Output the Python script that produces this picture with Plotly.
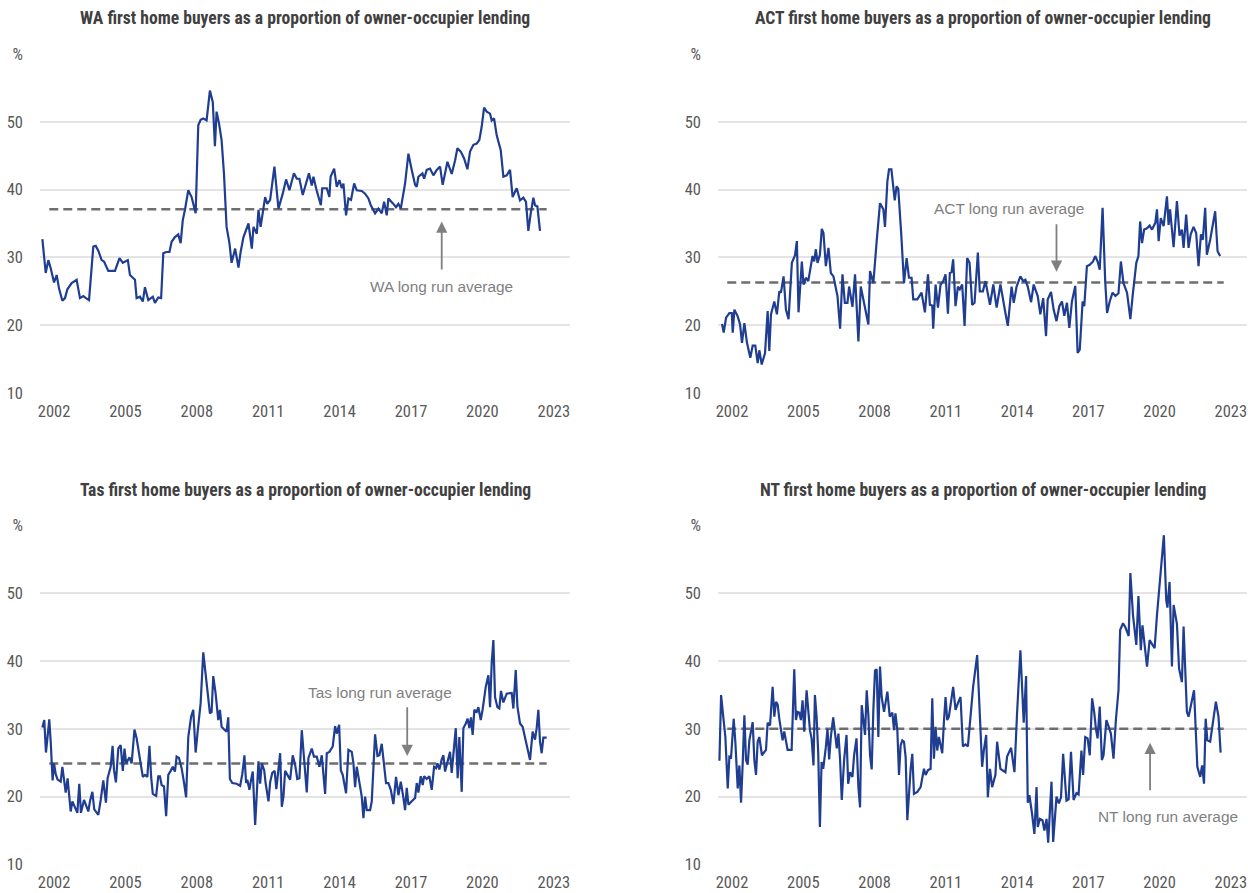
import plotly.graph_objects as go

# ---------------- data ----------------
wa_year = [
    2001.51, 2001.65, 2001.76, 2001.86, 2002.00, 2002.11, 2002.21, 2002.35, 2002.46, 2002.56,
    2002.74, 2002.88, 2002.95, 2003.09, 2003.23, 2003.34, 2003.47, 2003.65, 2003.75, 2003.86,
    2004.00, 2004.10, 2004.28, 2004.56, 2004.75, 2004.89, 2005.10, 2005.19, 2005.40, 2005.47,
    2005.61, 2005.73, 2005.82, 2005.96, 2006.15, 2006.24, 2006.38, 2006.50, 2006.59, 2006.71,
    2006.85, 2006.94, 2007.08, 2007.22, 2007.32, 2007.41, 2007.50, 2007.64, 2007.78, 2007.95,
    2008.06, 2008.16, 2008.27, 2008.41, 2008.55, 2008.67, 2008.76, 2008.83, 2008.93, 2009.04,
    2009.14, 2009.25, 2009.37, 2009.46, 2009.61, 2009.75, 2009.84, 2009.96, 2010.17, 2010.31,
    2010.38, 2010.52, 2010.59, 2010.68, 2010.87, 2010.96, 2011.08, 2011.26, 2011.43, 2011.61,
    2011.75, 2011.89, 2012.08, 2012.20, 2012.31, 2012.45, 2012.55, 2012.71, 2012.83, 2012.90,
    2013.01, 2013.21, 2013.27, 2013.46, 2013.57, 2013.62, 2013.77, 2013.88, 2013.99, 2014.09,
    2014.16, 2014.27, 2014.37, 2014.48, 2014.61, 2014.72, 2014.93, 2015.07, 2015.21, 2015.31,
    2015.49, 2015.63, 2015.77, 2015.87, 2015.98, 2016.05, 2016.23, 2016.37, 2016.47, 2016.57,
    2016.75, 2016.89, 2017.03, 2017.17, 2017.24, 2017.31, 2017.48, 2017.55, 2017.66, 2017.80,
    2017.94, 2018.08, 2018.22, 2018.33, 2018.53, 2018.71, 2018.85, 2018.95, 2019.09, 2019.23,
    2019.37, 2019.48, 2019.62, 2019.76, 2019.87, 2019.97, 2020.07, 2020.18, 2020.32, 2020.39,
    2020.49, 2020.60, 2020.77, 2020.88, 2021.02, 2021.16, 2021.27, 2021.44, 2021.58, 2021.72,
    2021.83, 2021.93, 2022.03, 2022.14, 2022.21, 2022.31, 2022.42,
]
wa_pct = [
    32.7, 27.7, 29.6, 28.4, 26.3, 27.4, 25.4, 23.6, 24.0, 25.3,
    26.2, 26.6, 26.7, 24.0, 24.3, 24.0, 23.7, 31.6, 31.7, 31.0,
    29.6, 29.4, 28.0, 28.0, 29.9, 29.2, 29.6, 27.4, 26.7, 24.0,
    24.2, 23.5, 25.6, 23.7, 24.2, 23.3, 24.1, 24.0, 30.6, 30.8,
    30.8, 32.3, 33.0, 33.4, 32.1, 35.5, 37.0, 39.9, 38.9, 36.5,
    49.5, 50.3, 50.5, 50.2, 54.6, 52.9, 46.4, 51.5, 49.8, 47.3,
    42.4, 34.5, 32.1, 29.2, 31.3, 28.5, 30.8, 33.0, 35.0, 31.3,
    34.5, 33.5, 37.0, 34.5, 38.9, 37.9, 38.5, 43.4, 37.2, 39.4,
    41.5, 39.9, 42.4, 41.6, 41.6, 39.2, 40.4, 42.4, 40.6, 41.9,
    40.2, 37.7, 40.2, 40.2, 38.9, 41.9, 43.1, 40.4, 41.4, 40.2,
    40.9, 36.2, 38.7, 38.5, 40.9, 39.9, 39.8, 39.4, 38.7, 37.7,
    36.5, 37.2, 36.5, 38.2, 36.2, 38.7, 38.0, 37.4, 37.9, 37.2,
    40.9, 45.3, 42.9, 40.7, 40.4, 41.9, 42.4, 41.6, 42.9, 43.1,
    42.1, 42.9, 43.4, 40.7, 44.1, 42.3, 44.3, 46.1, 45.6, 44.6,
    43.0, 45.6, 46.6, 46.8, 47.3, 49.3, 52.1, 51.5, 51.2, 50.2,
    50.5, 48.0, 45.8, 41.9, 42.1, 42.9, 38.9, 40.2, 38.4, 38.8,
    38.2, 33.9, 36.5, 38.8, 37.7, 37.5, 33.9,
]

act_year = [
    2001.58, 2001.65, 2001.75, 2001.89, 2001.99, 2002.03, 2002.10, 2002.24, 2002.34, 2002.42,
    2002.52, 2002.63, 2002.77, 2002.87, 2002.98, 2003.08, 2003.15, 2003.25, 2003.39, 2003.50,
    2003.57, 2003.64, 2003.78, 2003.89, 2003.99, 2004.06, 2004.17, 2004.27, 2004.38, 2004.52,
    2004.65, 2004.73, 2004.80, 2004.94, 2005.01, 2005.11, 2005.21, 2005.32, 2005.39, 2005.46,
    2005.53, 2005.60, 2005.70, 2005.78, 2005.85, 2005.95, 2006.06, 2006.16, 2006.27, 2006.34,
    2006.44, 2006.55, 2006.65, 2006.75, 2006.86, 2006.93, 2007.07, 2007.18, 2007.32, 2007.42,
    2007.53, 2007.63, 2007.74, 2007.81, 2007.95, 2008.09, 2008.23, 2008.37, 2008.44, 2008.54,
    2008.61, 2008.71, 2008.85, 2008.93, 2009.00, 2009.13, 2009.24, 2009.35, 2009.45, 2009.56,
    2009.63, 2009.80, 2009.98, 2010.12, 2010.25, 2010.33, 2010.43, 2010.47, 2010.57, 2010.67,
    2010.78, 2010.89, 2010.99, 2011.09, 2011.17, 2011.24, 2011.31, 2011.41, 2011.51, 2011.59,
    2011.69, 2011.79, 2011.90, 2012.00, 2012.11, 2012.21, 2012.35, 2012.43, 2012.56, 2012.67,
    2012.77, 2012.86, 2013.00, 2013.14, 2013.30, 2013.44, 2013.51, 2013.61, 2013.77, 2013.86,
    2013.98, 2014.14, 2014.26, 2014.35, 2014.45, 2014.59, 2014.70, 2014.87, 2014.98, 2015.10,
    2015.22, 2015.29, 2015.43, 2015.54, 2015.66, 2015.78, 2015.89, 2015.99, 2016.10, 2016.20,
    2016.31, 2016.45, 2016.55, 2016.64, 2016.76, 2016.83, 2016.94, 2017.06, 2017.20, 2017.29,
    2017.39, 2017.48, 2017.60, 2017.71, 2017.79, 2017.90, 2018.02, 2018.14, 2018.27, 2018.37,
    2018.48, 2018.63, 2018.77, 2018.88, 2019.02, 2019.11, 2019.18, 2019.26, 2019.35, 2019.47,
    2019.58, 2019.68, 2019.82, 2019.89, 2019.96, 2020.05, 2020.17, 2020.31, 2020.38, 2020.44,
    2020.59, 2020.73, 2020.84, 2020.94, 2021.01, 2021.12, 2021.22, 2021.31, 2021.43, 2021.54,
    2021.64, 2021.74, 2021.82, 2021.92, 2021.99, 2022.13, 2022.23, 2022.34, 2022.44, 2022.55,
]
act_pct = [
    20.2, 18.9, 21.1, 21.8, 21.8, 18.9, 22.3, 21.3, 20.1, 17.4,
    20.3, 17.4, 15.2, 17.0, 17.0, 14.4, 16.3, 14.2, 15.9, 22.1,
    16.2, 21.6, 23.5, 21.6, 25.0, 24.8, 27.2, 22.3, 20.9, 29.2,
    30.3, 32.4, 21.9, 29.4, 26.0, 27.0, 26.5, 28.7, 30.2, 29.4,
    31.2, 29.2, 30.4, 34.2, 33.6, 28.7, 31.4, 27.7, 27.2, 26.0,
    24.3, 19.5, 27.5, 23.3, 23.3, 25.7, 22.7, 27.5, 17.6, 25.7,
    23.8, 21.8, 20.1, 28.0, 26.2, 32.4, 38.0, 37.1, 34.5, 41.2,
    43.0, 43.0, 38.4, 40.5, 40.1, 33.1, 26.2, 29.9, 27.0, 27.0,
    23.8, 23.8, 24.8, 21.9, 27.5, 23.0, 22.9, 19.5, 26.0, 22.6,
    26.0, 26.5, 27.5, 21.7, 27.7, 27.8, 29.7, 22.8, 25.7, 25.3,
    26.0, 19.9, 29.9, 29.2, 23.0, 23.3, 30.7, 25.0, 25.0, 26.5,
    24.8, 23.0, 26.0, 22.6, 26.0, 22.8, 21.8, 19.9, 25.7, 23.3,
    25.7, 27.2, 26.5, 26.7, 25.7, 23.4, 26.0, 24.3, 21.6, 24.0,
    18.4, 23.8, 24.9, 22.3, 20.6, 22.8, 23.5, 21.4, 23.3, 19.6,
    23.5, 25.8, 15.9, 16.4, 23.5, 22.8, 28.7, 28.9, 29.4, 30.2,
    29.4, 28.2, 37.3, 26.5, 21.8, 23.5, 24.8, 24.3, 24.7, 29.4,
    26.2, 24.8, 20.9, 24.8, 29.2, 30.2, 35.3, 32.1, 34.1, 34.3,
    34.7, 34.1, 35.1, 37.1, 32.4, 35.8, 34.6, 39.0, 34.8, 37.1,
    31.5, 38.3, 33.2, 34.1, 31.4, 36.3, 31.4, 33.4, 34.5, 33.6,
    28.7, 33.4, 32.6, 37.3, 30.4, 32.6, 34.8, 36.8, 30.9, 30.2,
]

tas_year = [
    2001.51, 2001.59, 2001.66, 2001.73, 2001.80, 2001.86, 2001.94, 2002.00, 2002.07, 2002.15,
    2002.28, 2002.35, 2002.42, 2002.49, 2002.57, 2002.70, 2002.77, 2002.88, 2002.98, 2003.06,
    2003.13, 2003.26, 2003.34, 2003.44, 2003.51, 2003.61, 2003.69, 2003.86, 2003.96, 2004.07,
    2004.18, 2004.25, 2004.38, 2004.46, 2004.52, 2004.60, 2004.70, 2004.80, 2004.89, 2004.96,
    2005.03, 2005.10, 2005.17, 2005.26, 2005.38, 2005.47, 2005.57, 2005.66, 2005.73, 2005.82,
    2005.92, 2006.01, 2006.08, 2006.15, 2006.29, 2006.38, 2006.45, 2006.52, 2006.62, 2006.71,
    2006.80, 2006.90, 2006.99, 2007.08, 2007.15, 2007.25, 2007.36, 2007.46, 2007.55, 2007.64,
    2007.76, 2007.85, 2007.95, 2008.04, 2008.16, 2008.27, 2008.41, 2008.55, 2008.62, 2008.69,
    2008.79, 2008.90, 2008.97, 2009.04, 2009.18, 2009.25, 2009.32, 2009.39, 2009.49, 2009.67,
    2009.82, 2009.91, 2010.00, 2010.07, 2010.12, 2010.21, 2010.28, 2010.35, 2010.45, 2010.52,
    2010.59, 2010.66, 2010.73, 2010.83, 2010.89, 2011.01, 2011.08, 2011.17, 2011.27, 2011.34,
    2011.41, 2011.50, 2011.57, 2011.64, 2011.71, 2011.80, 2011.92, 2012.03, 2012.13, 2012.22,
    2012.31, 2012.41, 2012.50, 2012.62, 2012.69, 2012.83, 2012.92, 2013.04, 2013.15, 2013.25,
    2013.39, 2013.46, 2013.57, 2013.71, 2013.81, 2013.88, 2013.98, 2014.05, 2014.13, 2014.20,
    2014.27, 2014.37, 2014.51, 2014.58, 2014.65, 2014.72, 2014.83, 2014.93, 2015.00, 2015.07,
    2015.14, 2015.28, 2015.35, 2015.49, 2015.59, 2015.67, 2015.77, 2015.87, 2015.95, 2016.05,
    2016.15, 2016.26, 2016.37, 2016.47, 2016.57, 2016.68, 2016.75, 2016.82, 2016.89, 2017.03,
    2017.17, 2017.24, 2017.31, 2017.41, 2017.49, 2017.55, 2017.66, 2017.77, 2017.87, 2017.97,
    2018.05, 2018.11, 2018.19, 2018.29, 2018.36, 2018.43, 2018.53, 2018.64, 2018.71, 2018.78,
    2018.88, 2018.96, 2019.03, 2019.13, 2019.20, 2019.30, 2019.38, 2019.45, 2019.52, 2019.59,
    2019.66, 2019.76, 2019.83, 2019.93, 2020.01, 2020.14, 2020.25, 2020.32, 2020.39, 2020.46,
    2020.53, 2020.63, 2020.71, 2020.78, 2020.88, 2021.02, 2021.23, 2021.30, 2021.40, 2021.47,
    2021.58, 2021.69, 2021.79, 2021.89, 2022.00, 2022.11, 2022.21, 2022.28, 2022.35, 2022.42,
    2022.49, 2022.56, 2022.70,
]
tas_pct = [
    30.2, 31.3, 26.5, 29.1, 31.4, 28.1, 22.4, 24.9, 23.3, 22.5,
    22.2, 24.4, 22.6, 20.6, 22.7, 17.8, 19.3, 18.3, 17.6, 21.9,
    17.6, 19.5, 18.8, 17.8, 19.3, 20.7, 18.1, 17.3, 19.5, 22.4,
    19.1, 22.7, 24.4, 27.5, 23.9, 22.1, 27.1, 27.6, 23.8, 27.1,
    24.9, 25.4, 25.8, 24.9, 29.9, 28.6, 26.6, 24.4, 22.9, 23.2,
    22.9, 27.5, 22.9, 20.4, 20.1, 23.0, 23.0, 21.7, 21.5, 17.1,
    23.2, 23.8, 24.4, 23.7, 25.9, 25.7, 24.2, 22.1, 19.9, 28.8,
    31.8, 32.8, 26.5, 29.8, 33.8, 41.3, 36.7, 32.3, 32.5, 37.8,
    35.2, 31.3, 32.8, 30.3, 29.8, 29.6, 31.7, 22.6, 22.0, 21.9,
    21.6, 23.3, 26.1, 22.0, 22.5, 21.0, 22.5, 23.7, 15.8, 20.5,
    25.2, 21.9, 24.9, 23.9, 22.0, 19.3, 22.1, 23.5, 23.8, 21.1,
    23.4, 26.4, 18.5, 20.0, 23.8, 23.2, 22.5, 26.1, 24.7, 22.6,
    22.7, 29.8, 25.4, 20.6, 25.7, 27.1, 25.9, 25.9, 24.4, 26.1,
    20.4, 26.4, 26.6, 27.4, 30.4, 29.3, 30.6, 23.9, 23.2, 22.0,
    20.5, 26.9, 26.6, 24.9, 21.4, 24.4, 21.7, 20.0, 16.8, 20.0,
    18.0, 18.0, 19.3, 29.2, 26.0, 26.1, 27.8, 24.9, 22.0, 22.0,
    21.0, 18.9, 22.9, 20.2, 22.2, 19.8, 18.0, 21.3, 18.8, 19.3,
    19.8, 22.0, 20.6, 23.0, 21.7, 23.0, 22.6, 23.0, 21.0, 24.4,
    24.2, 24.9, 24.0, 25.5, 26.1, 23.7, 25.2, 26.6, 23.5, 26.4,
    30.1, 22.7, 28.8, 20.7, 30.1, 30.8, 31.5, 30.1, 31.7, 29.1,
    32.8, 32.5, 33.2, 31.3, 32.9, 36.2, 37.9, 33.2, 39.7, 43.1,
    34.7, 33.2, 33.0, 35.6, 33.9, 35.2, 35.3, 33.0, 38.7, 33.3,
    30.8, 30.3, 28.7, 27.1, 25.4, 29.6, 28.4, 30.1, 32.8, 28.1,
    26.4, 28.7, 28.7,
]

nt_year = [
    2001.47, 2001.54, 2001.64, 2001.72, 2001.82, 2001.89, 2001.96, 2002.07, 2002.14, 2002.24,
    2002.31, 2002.38, 2002.45, 2002.52, 2002.59, 2002.66, 2002.73, 2002.87, 2002.94, 2003.01,
    2003.08, 2003.15, 2003.26, 2003.36, 2003.43, 2003.50, 2003.60, 2003.71, 2003.78, 2003.85,
    2003.92, 2003.99, 2004.13, 2004.20, 2004.34, 2004.51, 2004.62, 2004.69, 2004.76, 2004.83,
    2004.90, 2004.97, 2005.04, 2005.14, 2005.21, 2005.28, 2005.35, 2005.43, 2005.49, 2005.56,
    2005.63, 2005.70, 2005.77, 2005.84, 2005.95, 2006.02, 2006.09, 2006.16, 2006.26, 2006.34,
    2006.41, 2006.48, 2006.55, 2006.62, 2006.72, 2006.82, 2006.89, 2006.97, 2007.07, 2007.14,
    2007.24, 2007.32, 2007.39, 2007.46, 2007.53, 2007.60, 2007.67, 2007.74, 2007.81, 2007.88,
    2007.95, 2008.02, 2008.09, 2008.16, 2008.23, 2008.30, 2008.40, 2008.47, 2008.54, 2008.64,
    2008.75, 2008.82, 2008.88, 2008.96, 2009.03, 2009.10, 2009.17, 2009.24, 2009.31, 2009.38,
    2009.45, 2009.52, 2009.59, 2009.66, 2009.80, 2009.94, 2010.08, 2010.15, 2010.25, 2010.36,
    2010.43, 2010.50, 2010.57, 2010.64, 2010.71, 2010.78, 2010.85, 2010.92, 2010.99, 2011.06,
    2011.13, 2011.31, 2011.41, 2011.51, 2011.62, 2011.72, 2011.83, 2011.93, 2012.04, 2012.15,
    2012.32, 2012.43, 2012.53, 2012.60, 2012.70, 2012.77, 2012.86, 2012.95, 2013.09, 2013.16,
    2013.30, 2013.51, 2013.58, 2013.75, 2013.89, 2014.00, 2014.14, 2014.28, 2014.38, 2014.45,
    2014.52, 2014.63, 2014.73, 2014.82, 2014.87, 2014.96, 2015.07, 2015.15, 2015.24, 2015.31,
    2015.45, 2015.52, 2015.59, 2015.66, 2015.76, 2015.85, 2015.94, 2016.08, 2016.17, 2016.27,
    2016.38, 2016.50, 2016.59, 2016.71, 2016.78, 2016.87, 2016.97, 2017.06, 2017.16, 2017.25,
    2017.32, 2017.39, 2017.48, 2017.57, 2017.64, 2017.76, 2017.86, 2017.95, 2018.06, 2018.16,
    2018.27, 2018.34, 2018.46, 2018.56, 2018.70, 2018.77, 2018.88, 2019.02, 2019.11, 2019.21,
    2019.28, 2019.40, 2019.47, 2019.58, 2019.68, 2019.79, 2019.89, 2020.00, 2020.10, 2020.18,
    2020.28, 2020.33, 2020.42, 2020.52, 2020.59, 2020.73, 2020.82, 2020.94, 2021.01, 2021.08,
    2021.15, 2021.22, 2021.36, 2021.45, 2021.59, 2021.71, 2021.79, 2021.87, 2021.94, 2022.01,
    2022.13, 2022.23, 2022.37, 2022.48, 2022.57,
]
nt_pct = [
    25.3, 35.0, 31.5, 28.8, 21.2, 25.9, 25.8, 31.5, 28.1, 21.2,
    24.6, 19.1, 24.9, 32.0, 25.4, 24.7, 28.3, 31.0, 25.4, 23.2,
    28.1, 28.8, 26.1, 26.6, 26.9, 30.9, 30.5, 36.2, 31.8, 34.0,
    33.6, 31.5, 28.3, 29.6, 26.9, 26.9, 38.8, 31.3, 32.5, 32.4,
    31.3, 34.2, 29.6, 35.7, 32.8, 29.8, 28.6, 24.6, 35.0, 31.8,
    26.4, 15.5, 25.1, 24.1, 27.3, 30.0, 25.5, 28.8, 31.7, 29.1,
    27.1, 29.3, 25.4, 19.5, 25.4, 29.1, 21.9, 23.6, 22.9, 26.1,
    28.6, 21.4, 18.4, 33.5, 31.0, 29.1, 35.7, 32.0, 26.1, 24.0,
    32.8, 38.6, 38.8, 28.8, 39.2, 34.7, 32.5, 34.0, 35.5, 31.8,
    32.4, 29.8, 32.3, 29.8, 23.2, 27.6, 28.3, 28.1, 25.8, 16.5,
    21.4, 24.1, 26.3, 20.4, 20.7, 21.4, 24.1, 23.2, 23.9, 24.1,
    34.5, 25.6, 30.3, 26.8, 28.8, 27.6, 26.4, 31.0, 34.7, 31.3,
    31.8, 36.2, 32.8, 33.8, 34.7, 27.4, 27.7, 27.4, 32.3, 36.2,
    40.9, 30.8, 24.4, 26.8, 29.1, 19.9, 24.1, 21.4, 23.2, 28.1,
    24.1, 23.6, 25.9, 27.2, 23.6, 32.3, 41.6, 30.9, 37.8, 19.1,
    20.2, 17.5, 14.5, 21.4, 15.5, 16.7, 16.5, 15.0, 16.7, 13.2,
    22.2, 13.3, 16.7, 20.0, 19.0, 19.9, 26.3, 19.4, 19.6, 26.6,
    19.5, 20.5, 20.3, 26.8, 23.2, 28.8, 28.6, 26.1, 34.5, 32.4,
    30.0, 28.6, 33.3, 25.4, 26.1, 31.3, 30.3, 29.3, 25.6, 31.3,
    35.7, 44.6, 45.6, 45.0, 43.7, 53.0, 46.8, 42.4, 49.6, 41.6,
    45.3, 41.4, 39.2, 43.1, 42.5, 41.9, 46.8, 51.2, 54.9, 58.6,
    49.0, 47.9, 51.7, 39.2, 48.3, 45.5, 38.9, 36.9, 45.1, 37.2,
    32.5, 31.8, 34.5, 35.7, 24.4, 22.9, 24.6, 21.9, 31.5, 28.3,
    28.1, 30.8, 34.0, 31.8, 26.5,
]

states = ["WA", "ACT", "Tas", "NT"]
long_run_avg = [37.1, 26.3, 24.9, 30.0]
avg_span = [2001.8, 2022.7]

y_ticks = [10, 20, 30, 40, 50, 60]
y_tick_labels = ["10", "20", "30", "40", "50", "%"]
x_ticks = [2002, 2005, 2008, 2011, 2014, 2017, 2020, 2023]
x_tick_labels = [str(v) for v in x_ticks]

series = [(wa_year, wa_pct), (act_year, act_pct), (tas_year, tas_pct), (nt_year, nt_pct)]

# ---------------- styling ----------------
W, H = 1248, 893
LINE_BLUE = "#1f3d91"
AVG_GREY = "#6e6e6e"
NOTE_GREY = "#7f7f7f"
TICK_GREY = "#595959"
TITLE_GREY = "#404040"
GRID = "#e4e4e4"
NARROW = "Liberation Sans Narrow, Arial Narrow, Roboto Condensed, DejaVu Sans Condensed, sans-serif"
REGULAR = "Liberation Sans, Arial, sans-serif"

x_domains = [[40 / W, 570 / W], [718 / W, 1247 / W], [40 / W, 570 / W], [718 / W, 1247 / W]]
y_domains = [[1 - 393 / H, 1 - 54 / H], [1 - 393 / H, 1 - 54 / H],
             [1 - 864.3 / H, 1 - 525.7 / H], [1 - 864.3 / H, 1 - 525.7 / H]]
x_range = [2001.41, 2023.68]

fig = go.Figure()
layout = dict(
    width=W, height=H, autosize=False,
    margin=dict(l=0, r=0, t=0, b=0, pad=0),
    paper_bgcolor="white", plot_bgcolor="white",
    showlegend=False,
    annotations=[],
)

for i, (name, (xs, ys), avg) in enumerate(zip(states, series, long_run_avg)):
    k = "" if i == 0 else str(i + 1)
    xa, ya = "x" + k, "y" + k
    fig.add_trace(go.Scatter(x=avg_span, y=[avg, avg], mode="lines", xaxis=xa, yaxis=ya,
                             line=dict(color=AVG_GREY, width=2.5, dash="9px,5px"),
                             hoverinfo="skip"))
    fig.add_trace(go.Scatter(x=xs, y=ys, mode="lines", xaxis=xa, yaxis=ya,
                             line=dict(color=LINE_BLUE, width=2.2)))
    layout["xaxis" + k] = dict(
        domain=x_domains[i], range=x_range, anchor=ya, automargin=False,
        tickmode="array", tickvals=x_ticks, ticktext=x_tick_labels,
        showgrid=False, zeroline=False, showline=False, ticks="",
        ticklabelstandoff=6,
        tickfont=dict(family=NARROW, size=16.5, color=TICK_GREY),
    )
    layout["yaxis" + k] = dict(
        domain=y_domains[i], range=[10, 60], anchor=xa, automargin=False,
        tickmode="array", tickvals=y_ticks, ticktext=y_tick_labels,
        showgrid=True, gridcolor=GRID, gridwidth=2,
        zeroline=False, showline=False, ticks="",
        ticklabelstandoff=16,
        tickfont=dict(family=NARROW, size=16.5, color=TICK_GREY),
    )
    cx = (x_domains[i][0] + x_domains[i][1]) / 2
    ty = 1 - 18 / H if i < 2 else 1 - 490 / H
    layout["annotations"].append(dict(
        xref="paper", yref="paper", x=cx, y=ty, xanchor="center", yanchor="middle",
        showarrow=False,
        text=f"<b>{name} first home buyers as a proportion of owner-occupier lending</b>",
        font=dict(family=NARROW, size=17.6, color=TITLE_GREY),
    ))

# long-run average notes: (label x, label y, arrow x, arrow tip y, arrow tail y)
notes = [
    (2018.29, 25.7, 2018.29, 35.3, 28.0),
    (2013.64, 37.2, 2015.66, 27.9, 35.1),
    (2015.70, 35.3, 2016.84, 26.0, 33.4),
    (2020.35, 17.1, 2019.60, 27.95, 20.7),
]
for i, (name, (lx, ly, axx, tip, tail)) in enumerate(zip(states, notes)):
    k = "" if i == 0 else str(i + 1)
    layout["annotations"].append(dict(
        xref="x" + k, yref="y" + k, x=lx, y=ly, xanchor="center", yanchor="middle",
        showarrow=False, text=f"{name} long run average",
        font=dict(family=REGULAR, size=15.4, color=NOTE_GREY),
    ))
    layout["annotations"].append(dict(
        xref="x" + k, yref="y" + k, axref="x" + k, ayref="y" + k,
        x=axx, y=tip, ax=axx, ay=tail, text="", showarrow=True,
        arrowhead=2, arrowsize=1.25, arrowwidth=1.8, arrowcolor=NOTE_GREY,
        standoff=0, startstandoff=0,
    ))

fig.update_layout(**layout)
fig.write_html(
    "out.html",
    config={"displayModeBar": False},
    post_script="document.body.style.margin='0';document.body.style.padding='0';"
                "document.body.style.overflow='hidden';",
)
